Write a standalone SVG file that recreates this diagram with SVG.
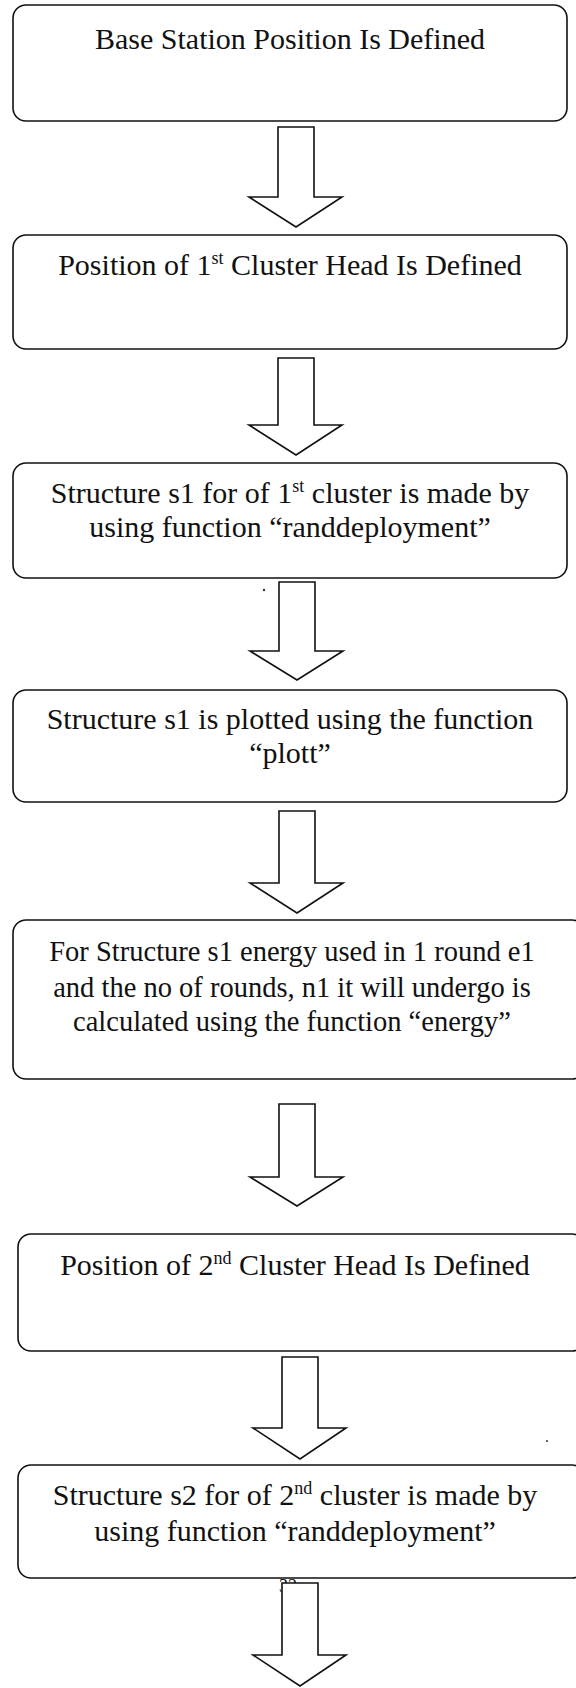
<svg xmlns="http://www.w3.org/2000/svg" width="576" height="1688" viewBox="0 0 576 1688">
  <style>
    .box { fill: #ffffff; stroke: #111111; stroke-width: 1.6; }
    .arrow { fill: #ffffff; stroke: #111111; stroke-width: 1.6; stroke-linejoin: miter; }
    .lbl { font-family: "Liberation Serif", "Times New Roman", serif; font-size: 30px; fill: #111111; text-anchor: middle; }
    .small { font-size: 28.5px; }
    .sup { font-size: 18px; }
    .pg { font-family: "Liberation Serif", "Times New Roman", serif; font-size: 18px; fill: #111111; }
    .speck { fill: #333333; }
  </style>
  <rect width="576" height="1688" fill="#ffffff"/>

  <!-- page number, mostly hidden under the last arrow -->
  <text class="pg" x="279" y="1592">32</text>

  <g id="connectors">
    <polygon class="arrow" points="278,127 314,127 314,197 342,197 296,227 249,197 278,197"/>
    <polygon class="arrow" points="278,358 314,358 314,425 342,425 296,455 249,425 278,425"/>
    <polygon class="arrow" points="279,582 315,582 315,651 343,651 297,680 250,651 279,651"/>
    <polygon class="arrow" points="279,811 315,811 315,883 343,883 297,913 250,883 279,883"/>
    <polygon class="arrow" points="279,1104 315,1104 315,1177 343,1177 297,1206 250,1177 279,1177"/>
    <polygon class="arrow" points="282,1357 318,1357 318,1428 346,1428 300,1459 253,1428 282,1428"/>
    <polygon class="arrow" points="282,1583 318,1583 318,1655 346,1655 300,1686 253,1655 282,1655"/>
  </g>

  <g id="n1">
    <rect class="box" x="13" y="5" width="554" height="116" rx="13"/>
    <text class="lbl" x="290" y="49">Base Station Position Is Defined</text>
  </g>

  <g id="n2">
    <rect class="box" x="13" y="235" width="554" height="114" rx="13"/>
    <text class="lbl" x="290" y="275">Position of 1<tspan class="sup" dy="-11">st</tspan><tspan dy="11"> Cluster Head Is Defined</tspan></text>
  </g>

  <g id="n3">
    <rect class="box" x="13" y="463" width="554" height="115" rx="13"/>
    <text class="lbl" x="290" y="503">Structure s1 for of 1<tspan class="sup" dy="-11">st</tspan><tspan dy="11"> cluster is made by</tspan></text>
    <text class="lbl" x="290" y="537">using function “randdeployment”</text>
  </g>

  <g id="n4">
    <rect class="box" x="13" y="690" width="554" height="112" rx="13"/>
    <text class="lbl" x="290" y="729">Structure s1 is plotted using the function</text>
    <text class="lbl" x="290" y="763">“plott”</text>
  </g>

  <g id="n5">
    <rect class="box" x="13" y="920" width="572" height="159" rx="13"/>
    <text class="lbl small" x="292" y="961">For Structure s1 energy used in 1 round e1</text>
    <text class="lbl small" x="292" y="997">and the no of rounds, n1 it will undergo is</text>
    <text class="lbl small" x="292" y="1031">calculated using the function “energy”</text>
  </g>

  <g id="n6">
    <rect class="box" x="18" y="1234" width="567" height="117" rx="13"/>
    <text class="lbl" x="295" y="1275">Position of 2<tspan class="sup" dy="-11">nd</tspan><tspan dy="11"> Cluster Head Is Defined</tspan></text>
  </g>

  <g id="n7">
    <rect class="box" x="18" y="1465" width="567" height="113" rx="13"/>
    <text class="lbl" x="295" y="1505">Structure s2 for of 2<tspan class="sup" dy="-11">nd</tspan><tspan dy="11"> cluster is made by</tspan></text>
    <text class="lbl" x="295" y="1541">using function “randdeployment”</text>
  </g>

  <!-- scan specks -->
  <circle class="speck" cx="264" cy="590" r="1.2"/>
  <circle class="speck" cx="547" cy="1441" r="1"/>
</svg>
